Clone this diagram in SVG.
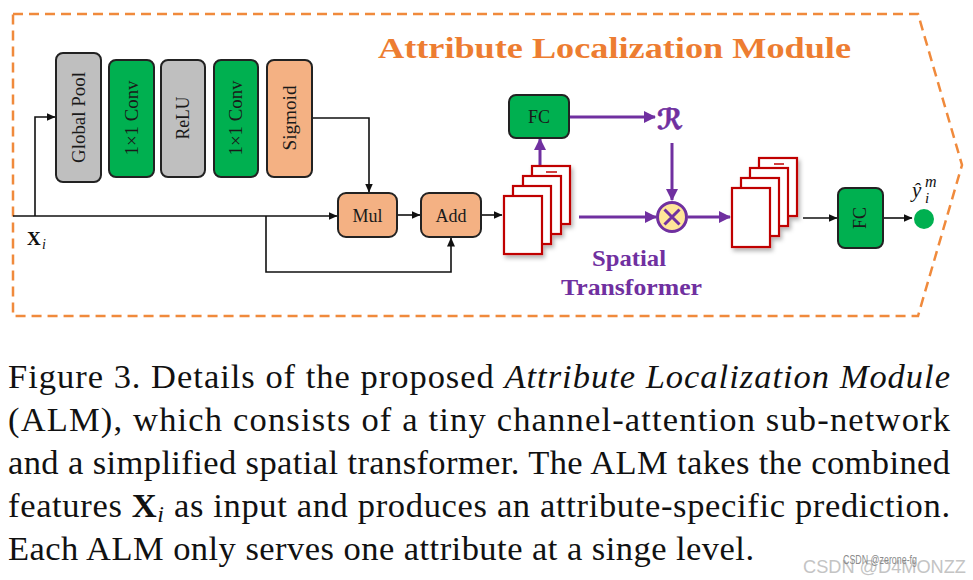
<svg xmlns="http://www.w3.org/2000/svg" width="973" height="580" viewBox="0 0 973 580">
<defs>
<style>
.box{stroke:#222;stroke-width:2}
.gray{fill:#BFBFBF}
.green{fill:#00B050}
.orange{fill:#F4B183}
.lbl{font-family:"Liberation Serif","Times New Roman",serif;font-size:18px;fill:#1a1a1a;text-anchor:middle}
.blk{fill:none;stroke:#111;stroke-width:1.6}
.pur{fill:none;stroke:#7030A0;stroke-width:3}
.card{fill:#fff;stroke:#C00000;stroke-width:2.2}
.cap{font-family:"Liberation Serif","Times New Roman",serif;font-size:34.5px;fill:#111}
</style>
<marker id="ab" markerWidth="9" markerHeight="8" refX="8.5" refY="4" orient="auto" markerUnits="userSpaceOnUse">
<path d="M0,0 L9,4 L0,8 z" fill="#111"/>
</marker>
<marker id="ap" markerWidth="12" markerHeight="12" refX="11" refY="6" orient="auto" markerUnits="userSpaceOnUse">
<path d="M0,0 L12,6 L0,12 z" fill="#7030A0"/>
</marker>
<filter id="sh" x="-20%" y="-20%" width="150%" height="150%">
<feDropShadow dx="2" dy="3" stdDeviation="2" flood-color="#000" flood-opacity="0.3"/>
</filter>
</defs>
<rect width="973" height="580" fill="#fff"/>

<g id="module-border">
<path d="M13,14 L918,14 L962,165 L918,316 L13,316 Z" fill="none" stroke="#F08A3C" stroke-width="2.5" stroke-dasharray="10,6"/>
<text x="378" y="58" textLength="473" lengthAdjust="spacingAndGlyphs" font-family="Liberation Serif,Times New Roman,serif" font-weight="bold" font-size="30" fill="#ED7D31">Attribute Localization Module</text>
</g>

<g id="connectors">
<polyline class="blk" points="13,216 337,216" marker-end="url(#ab)"/>
<polyline class="blk" points="35,216 35,117 55,117" marker-end="url(#ab)"/>
<polyline class="blk" points="312,118 369,118 369,192" marker-end="url(#ab)"/>
<polyline class="blk" points="266,216 266,272 451,272 451,238" marker-end="url(#ab)"/>
<polyline class="blk" points="397,215 420,215" marker-end="url(#ab)"/>
<polyline class="blk" points="481,215 502,215" marker-end="url(#ab)"/>
<polyline class="blk" points="803,218 837,218" marker-end="url(#ab)"/>
<polyline class="blk" points="883,218 912,218" marker-end="url(#ab)"/>
<polyline class="pur" points="540,166 540,139" marker-end="url(#ap)"/>
<polyline class="pur" points="569,117 655,117" marker-end="url(#ap)"/>
<polyline class="pur" points="579,217 656,217" marker-end="url(#ap)"/>
<polyline class="pur" points="672,143 672,200" marker-end="url(#ap)"/>
<polyline class="pur" points="688,217 730,217" marker-end="url(#ap)"/>
</g>

<g id="input-label">
<text x="27" y="245" font-family="Liberation Serif,serif" font-weight="bold" font-size="19" fill="#111">X</text>
<text x="42" y="249" font-family="Liberation Serif,serif" font-style="italic" font-size="14" fill="#111">i</text>
</g>

<g id="global-pool">
<rect class="box gray" x="56" y="53" width="45" height="129" rx="7"/>
<text class="lbl" transform="translate(78.5,117.5) rotate(-90)" y="6" textLength="91" lengthAdjust="spacingAndGlyphs">Global Pool</text>
</g>
<g id="conv1">
<rect class="box green" x="109" y="60" width="45" height="117" rx="7"/>
<text class="lbl" transform="translate(131.5,118) rotate(-90)" y="6" textLength="75" lengthAdjust="spacingAndGlyphs">1×1 Conv</text>
</g>
<g id="relu">
<rect class="box gray" x="161" y="60" width="44" height="117" rx="7"/>
<text class="lbl" transform="translate(183,118) rotate(-90)" y="6" textLength="43" lengthAdjust="spacingAndGlyphs">ReLU</text>
</g>
<g id="conv2">
<rect class="box green" x="214" y="60" width="44" height="117" rx="7"/>
<text class="lbl" transform="translate(236,118) rotate(-90)" y="6" textLength="75" lengthAdjust="spacingAndGlyphs">1×1 Conv</text>
</g>
<g id="sigmoid">
<rect class="box orange" x="267" y="60" width="45" height="117" rx="7"/>
<text class="lbl" transform="translate(289.5,118) rotate(-90)" y="6" textLength="65" lengthAdjust="spacingAndGlyphs">Sigmoid</text>
</g>

<g id="mul">
<rect class="box orange" x="338" y="193" width="59" height="44" rx="8"/>
<text class="lbl" x="367.5" y="221.5" font-size="19">Mul</text>
</g>
<g id="add">
<rect class="box orange" x="421" y="193" width="60" height="44" rx="8"/>
<text class="lbl" x="451" y="221.5" font-size="19">Add</text>
</g>

<g id="features1" filter="url(#sh)">
<rect class="card" x="532" y="166" width="38" height="58"/>
<line x1="546" y1="172" x2="557" y2="172" stroke="#C00000" stroke-width="1.5"/>
<rect class="card" x="523" y="176" width="38" height="58"/>
<rect class="card" x="513" y="186" width="38" height="58"/>
<rect class="card" x="504" y="196" width="38" height="58"/>
</g>

<g id="fc1">
<rect class="box green" x="509" y="95" width="60" height="43" rx="7"/>
<text class="lbl" x="539" y="123" font-size="18">FC</text>
</g>

<g id="r-symbol">
<text x="657" y="129" font-family="DejaVu Serif,DejaVu Sans,serif" font-style="italic" font-weight="bold" font-size="28" fill="#7030A0" stroke="#7030A0" stroke-width="0.6">ℛ</text>
</g>

<g id="multiply">
<circle cx="672" cy="217" r="14.5" fill="#FFE699" stroke="#7030A0" stroke-width="3"/>
<path d="M664.5,209.5 L679.5,224.5 M679.5,209.5 L664.5,224.5" stroke="#7030A0" stroke-width="3" fill="none"/>
</g>

<g id="spatial-label">
<text x="629" y="266" text-anchor="middle" font-family="Liberation Serif,serif" font-weight="bold" font-size="23" fill="#7030A0" textLength="74" lengthAdjust="spacingAndGlyphs">Spatial</text>
<text x="631.5" y="295" text-anchor="middle" font-family="Liberation Serif,serif" font-weight="bold" font-size="23" fill="#7030A0" textLength="141" lengthAdjust="spacingAndGlyphs">Transformer</text>
</g>

<g id="features2" filter="url(#sh)">
<rect class="card" x="759" y="158" width="38" height="58"/>
<line x1="774" y1="164" x2="784" y2="164" stroke="#C00000" stroke-width="1.5"/>
<rect class="card" x="750" y="168" width="38" height="58"/>
<rect class="card" x="741" y="178" width="38" height="58"/>
<rect class="card" x="732" y="188" width="38" height="59"/>
</g>

<g id="fc2">
<rect class="box green" x="838" y="188" width="45" height="60" rx="7"/>
<text class="lbl" transform="translate(860.5,218) rotate(-90)" y="5" font-size="15">FC</text>
</g>

<g id="output">
<circle cx="924" cy="219" r="10" fill="#00B050"/>
<text x="912" y="197" font-family="Liberation Serif,serif" font-style="italic" font-size="21" fill="#111">ŷ</text>
<text x="925" y="187" font-family="Liberation Serif,serif" font-style="italic" font-size="16" fill="#111">m</text>
<text x="925" y="203" font-family="Liberation Serif,serif" font-style="italic" font-size="15" fill="#111">i</text>
</g>

<g id="caption">
<text class="cap" x="8" y="388" textLength="942" lengthAdjust="spacing">Figure 3. Details of the proposed <tspan font-style="italic">Attribute Localization Module</tspan></text>
<text class="cap" x="8" y="431" textLength="942" lengthAdjust="spacing">(ALM), which consists of a tiny channel-attention sub-network</text>
<text class="cap" x="8" y="474" textLength="942" lengthAdjust="spacing">and a simplified spatial transformer. The ALM takes the combined</text>
<text class="cap" x="8" y="517" textLength="942" lengthAdjust="spacing">features <tspan font-weight="bold">X</tspan><tspan font-style="italic" font-size="24" dy="5">i</tspan><tspan dy="-5"> as input and produces an attribute-specific prediction.</tspan></text>
<text class="cap" x="8" y="560" textLength="746" lengthAdjust="spacing">Each ALM only serves one attribute at a singe level.</text>
</g>

<g id="watermark">
<text x="803" y="573" font-family="Liberation Sans,Arial,sans-serif" font-size="18.5" fill="#c4c4c4" textLength="163" lengthAdjust="spacingAndGlyphs">CSDN @D4MONZZ</text>
<text x="843" y="564" font-family="Liberation Sans,Arial,sans-serif" font-size="12" fill="#8a8a8a" textLength="74" lengthAdjust="spacingAndGlyphs">CSDN @zerone-fg</text>
</g>
</svg>
